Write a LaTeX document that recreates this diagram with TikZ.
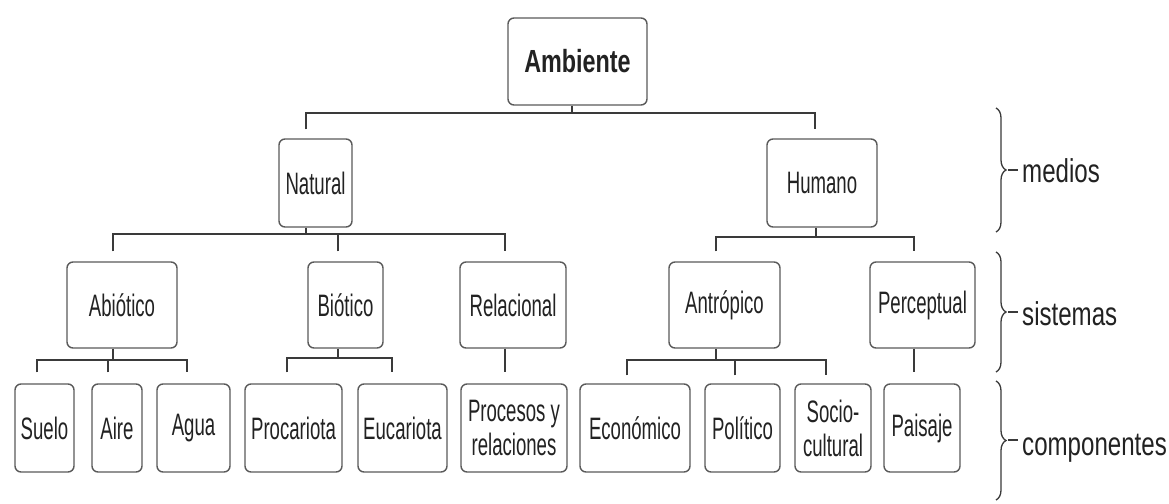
\documentclass[tikz,border=0pt]{standalone}
\usepackage{fontspec}
\setmainfont{Liberation Sans}
\newfontfamily\boxfont[FakeStretch=0.6]{Liberation Sans}
\newfontfamily\labelfont[FakeStretch=0.73]{Liberation Sans}
\usetikzlibrary{decorations.pathreplacing}
\definecolor{ink}{HTML}{222222}
\definecolor{frame}{HTML}{5A5A5A}
\definecolor{wire}{HTML}{3A3A3A}
\begin{document}
\begin{tikzpicture}[x=1pt,y=-1pt,
  box/.style={draw=frame, line width=1.4pt, rounded corners=6pt, fill=white,
    inner sep=0pt, align=center, text=ink,
    font=\boxfont\fontsize{31}{34}\selectfont},
  link/.style={draw=wire, line width=2.2pt},
  bracebar/.style={draw=wire, line width=1.3pt,
    decorate, decoration={brace, amplitude=10pt}},
  level/.style={anchor=base west, inner sep=0pt, text=ink,
    font=\labelfont\fontsize{33}{36}\selectfont}]
\fill[white] (0,0) rectangle (1169,503);
\useasboundingbox (0,0) rectangle (1169,503);

% root
\node[box, minimum width=139pt, minimum height=87pt,
  font=\labelfont\bfseries\fontsize{32}{36}\selectfont] (amb) at (577.5,61.5) {Ambiente};

% medios
\node[box, minimum width=73pt,  minimum height=88pt] (nat) at (315.5,183) {Natural};
\node[box, minimum width=110pt, minimum height=88pt] (hum) at (822,183)   {Humano};

% sistemas
\node[box, minimum width=110pt, minimum height=86pt] (abi) at (122,305)   {Abiótico};
\node[box, minimum width=75pt,  minimum height=86pt] (bio) at (345.5,305) {Biótico};
\node[box, minimum width=106pt, minimum height=86pt] (rel) at (513,305)   {Relacional};
\node[box, minimum width=111pt, minimum height=86pt] (ant) at (724.5,305) {Antrópico};
\node[box, minimum width=105pt, minimum height=86pt] (per) at (922.5,305) {Perceptual};

% componentes
\node[box, minimum width=59pt,  minimum height=88pt] (sue) at (44.5,428)  {Suelo};
\node[box, minimum width=50pt,  minimum height=88pt] (air) at (117,428)   {Aire};
\node[box, minimum width=73pt,  minimum height=88pt] (agu) at (193.5,428) {Agua};
\node[box, minimum width=97pt,  minimum height=88pt] (prc) at (293.5,428) {Procariota};
\node[box, minimum width=89pt,  minimum height=88pt] (euc) at (402.5,428) {Eucariota};
\node[box, minimum width=106pt, minimum height=88pt] (pyr) at (514,428)   {Procesos y\\relaciones};
\node[box, minimum width=110pt, minimum height=88pt] (eco) at (635,428)   {Económico};
\node[box, minimum width=75pt,  minimum height=88pt] (pol) at (742.5,428) {Político};
\node[box, minimum width=76pt,  minimum height=88pt] (soc) at (833,428)   {Socio-\\cultural};
\node[box, minimum width=76pt,  minimum height=88pt] (pai) at (922,428)   {Paisaje};

% bus junctions
\coordinate (ambBus) at (572,113);
\coordinate (natBus) at (306,234);
\coordinate (humBus) at (816,237);
\coordinate (abiBus) at (113,360);
\coordinate (bioBus) at (338,358);
\coordinate (antBus) at (716,360);

% Ambiente -> Natural, Humano
\draw[link] (amb.south -| ambBus) -- (ambBus);
\draw[link] ([xshift=-9.5pt,yshift=9pt]nat.north) |- (ambBus)
            -| ([xshift=-7pt,yshift=9pt]hum.north);

% Natural -> Abiótico, Biótico, Relacional
\draw[link] (nat.south -| natBus) -- (natBus);
\draw[link] ([xshift=-9pt,yshift=10pt]abi.north) |- (natBus)
            -| ([xshift=-8pt,yshift=10pt]rel.north);
\draw[link] ([xshift=-7.5pt,yshift=10pt]bio.north) -- ([xshift=-7.5pt]bio.north |- natBus);

% Humano -> Antrópico, Perceptual
\draw[link] (hum.south -| humBus) -- (humBus);
\draw[link] ([xshift=-8.5pt,yshift=10pt]ant.north) |- (humBus)
            -| ([xshift=-8.5pt,yshift=10pt]per.north);

% Abiótico -> Suelo, Aire, Agua
\draw[link] (abi.south -| abiBus) -- (abiBus);
\draw[link] ([xshift=-7.5pt,yshift=11pt]sue.north) |- (abiBus)
            -| ([xshift=-6.5pt,yshift=11pt]agu.north);
\draw[link] ([xshift=-9pt,yshift=11pt]air.north) -- ([xshift=-9pt]air.north |- abiBus);

% Biótico -> Procariota, Eucariota
\draw[link] (bio.south -| bioBus) -- (bioBus);
\draw[link] ([xshift=-6.5pt,yshift=11pt]prc.north) |- (bioBus)
            -| ([xshift=-10.5pt,yshift=11pt]euc.north);

% Relacional -> Procesos y relaciones
\draw[link] (rel.south -| pyr.north) ++(-9pt,0) -- ([xshift=-9pt,yshift=11pt]pyr.north);

% Antrópico -> Económico, Político, Socio-cultural
\draw[link] (ant.south -| antBus) -- (antBus);
\draw[link] ([xshift=-8pt,yshift=8pt]eco.north) |- (antBus)
            -| ([xshift=-7pt,yshift=8pt]soc.north);
\draw[link] ([xshift=-7.5pt,yshift=8pt]pol.north) -- ([xshift=-7.5pt]pol.north |- antBus);

% Perceptual -> Paisaje
\draw[link] ([xshift=-8pt]pai.north |- per.south) -- ([xshift=-8pt,yshift=11pt]pai.north);

% level braces and their names
\node[level] (lmed) at (1022,182) {medios};
\node[level] (lsis) at (1022,325) {sistemas};
\node[level] (lcom) at (1022,455) {componentes};

\draw[bracebar] (996,108) -- (996,232);
\draw[bracebar] (996,252) -- (996,372);
\draw[bracebar] (996,381) -- (996,500);
\draw[wire, line width=1.5pt] (1008,170) -- ([xshift=-4pt]lmed.west |- 0,170);
\draw[wire, line width=1.5pt] (1008,312) -- ([xshift=-4pt]lsis.west |- 0,312);
\draw[wire, line width=1.5pt] (1008,440) -- ([xshift=-4pt]lcom.west |- 0,440);
\end{tikzpicture}
\end{document}
